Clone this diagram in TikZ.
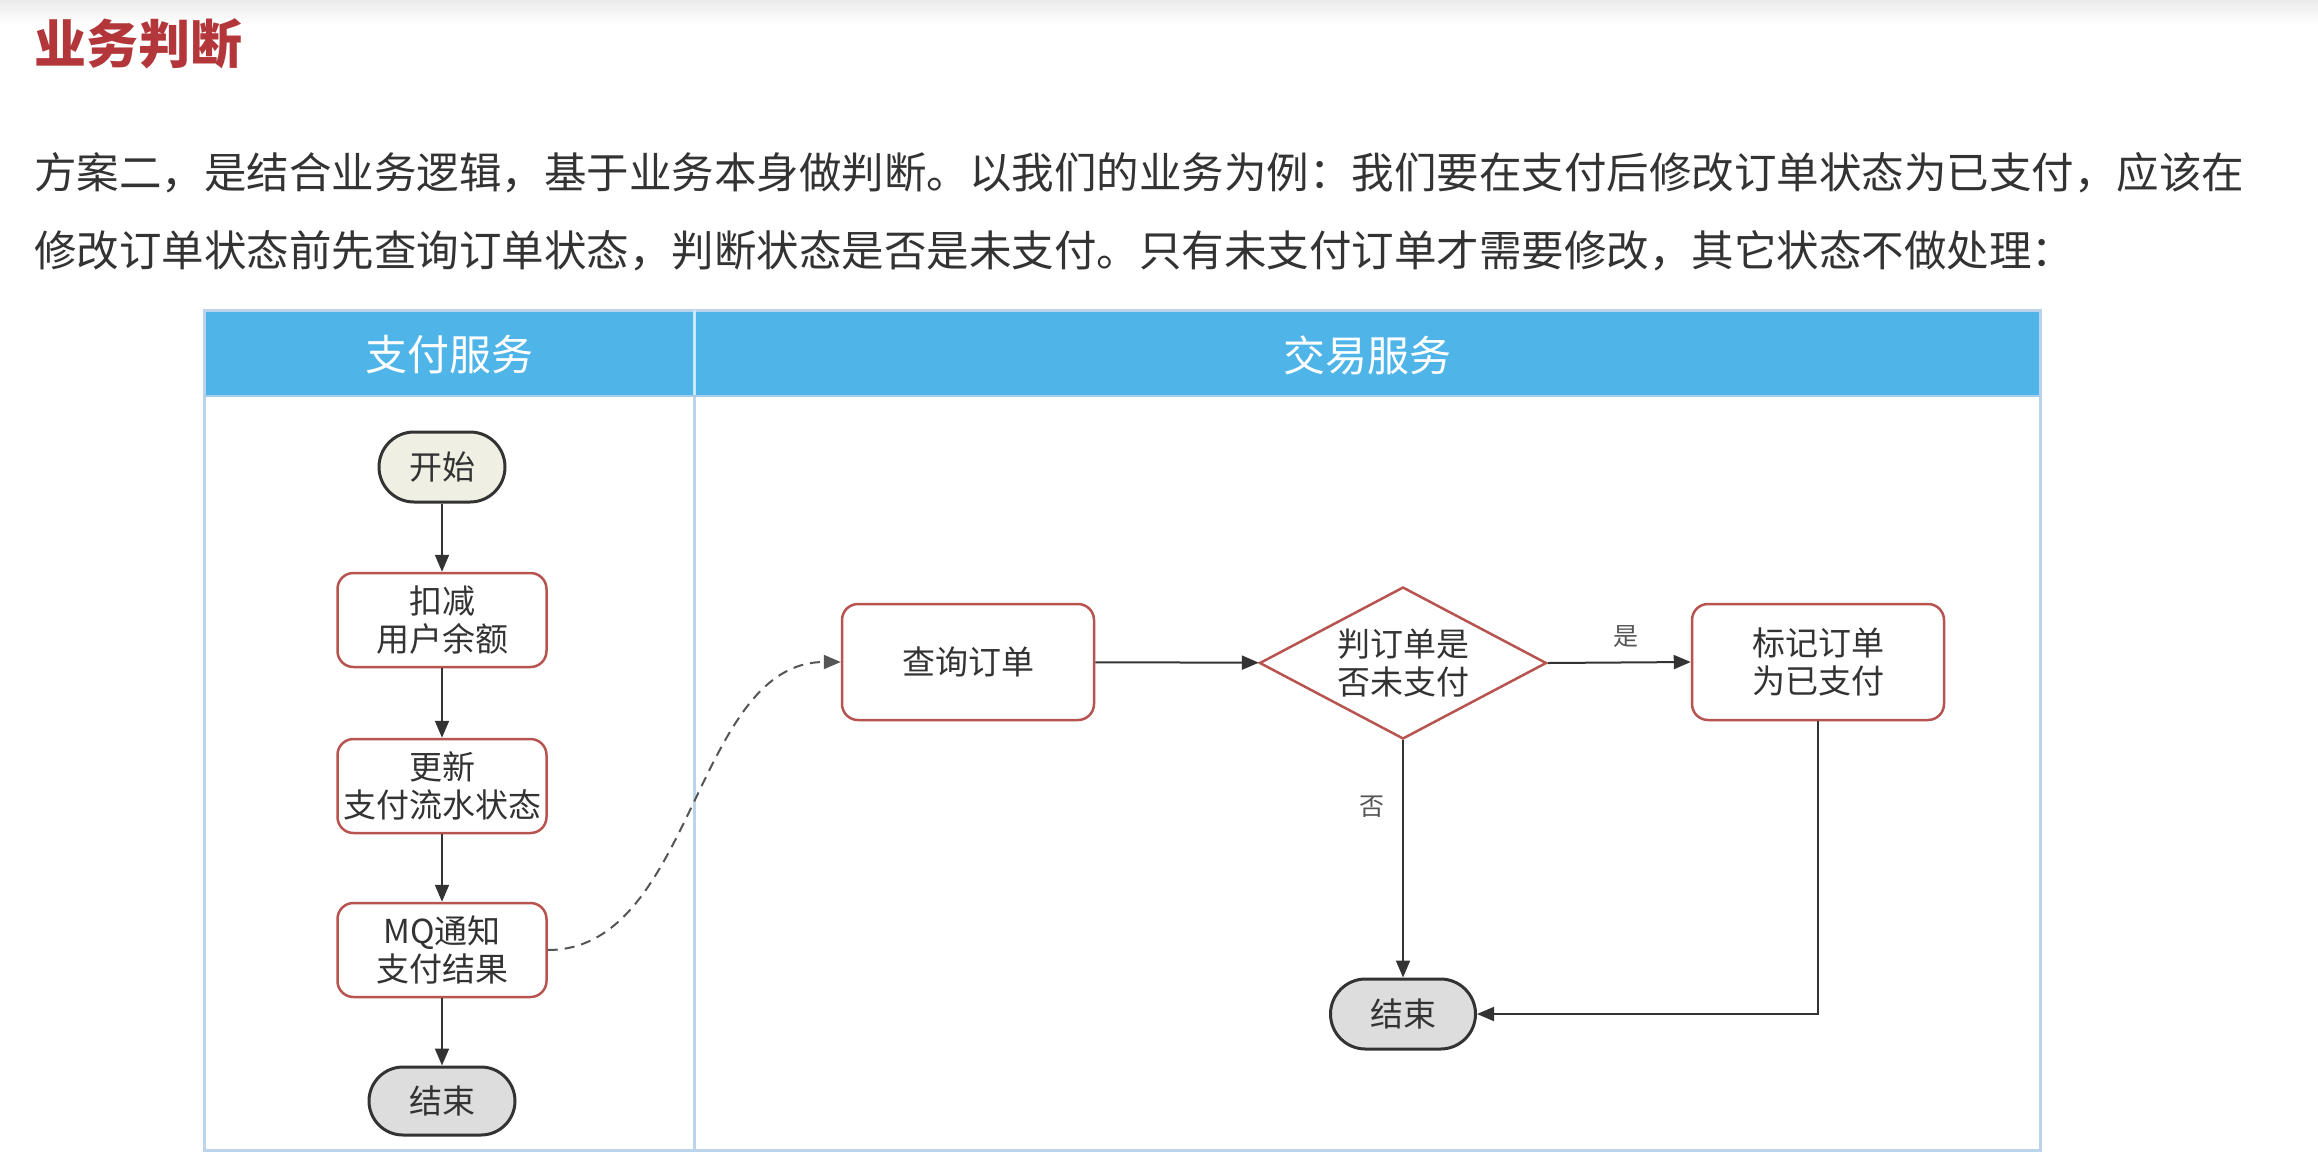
\documentclass[tikz,border=0pt]{standalone}
\usepackage{fontspec}
\setmainfont{Noto Sans CJK SC}
\usetikzlibrary{shapes.geometric,arrows.meta}
\definecolor{titlered}{HTML}{B3373A}
\definecolor{bodytxt}{HTML}{333333}
\definecolor{headblue}{HTML}{4FB5E9}
\definecolor{framecol}{HTML}{BCD3EC}
\definecolor{nodered}{HTML}{B85450}
\definecolor{startfill}{HTML}{EFF0E3}
\definecolor{endfill}{HTML}{DDDDDD}
\definecolor{linecol}{HTML}{333333}
\definecolor{labelgray}{HTML}{555555}
\tikzset{
  proc/.style={draw=nodered, line width=2.5pt, fill=white, rounded corners=16pt,
    align=center, text=bodytxt, inner sep=0pt, font=\fontsize{33}{38}\selectfont},
  term/.style={draw=linecol, line width=3pt, align=center, text=bodytxt, inner sep=0pt,
    font=\fontsize{33}{38}\selectfont},
  decide/.style={diamond, aspect=1.9, draw=nodered, line width=2.5pt, fill=white,
    align=center, text=bodytxt, inner sep=0pt, minimum width=287pt, minimum height=152pt,
    font=\fontsize{33}{38}\selectfont},
  arr/.style={draw=linecol, line width=2pt, -{Triangle[length=17pt,width=14pt]}},
  lbl/.style={text=labelgray, inner sep=0pt, font=\fontsize{25}{30}\selectfont},
  headtxt/.style={text=white, inner sep=0pt, font=\fontsize{42}{48}\selectfont},
  bodyline/.style={anchor=west, text=bodytxt, inner sep=0pt, font=\fontsize{42.5}{50}\selectfont}
}
\begin{document}
\begin{tikzpicture}[x=1pt,y=-1pt]
\useasboundingbox (0,0) rectangle (2318,1152);
\fill[white] (0,0) rectangle (2318,1152);
\shade[top color=black!8, bottom color=white] (0,0) rectangle (2318,24);

% title and text
\node[anchor=west, text=titlered, inner sep=0pt, font=\fontsize{52}{60}\selectfont\bfseries] (title) at (34,44) {业务判断};
\node[bodyline] (line1) at (34,173) {方案二，是结合业务逻辑，基于业务本身做判断。以我们的业务为例：我们要在支付后修改订单状态为已支付，应该在};
\node[bodyline] (line2) at (34,251) {修改订单状态前先查询订单状态，判断状态是否是未支付。只有未支付订单才需要修改，其它状态不做处理：};

% swimlane frame
\fill[headblue] (204,310) rectangle (2040,396);
\draw[framecol, line width=3pt] (204,310) rectangle (2040,1150);
\draw[white!70!headblue, line width=3pt] (694,310) -- (694,396);
\draw[framecol, line width=3pt] (694,396) -- (694,1150);
\draw[framecol!80!headblue, line width=2pt] (204,396) -- (2040,396);
\node[headtxt] (lane1) at (449,355) {支付服务};
\node[headtxt] (lane2) at (1367,355) {交易服务};

% left lane nodes
\node[term, fill=startfill, minimum width=126pt, minimum height=70pt, rounded corners=35pt] (start) at (442,467) {开始};
\node[proc, minimum width=209pt, minimum height=94pt] (deduct) at (442,620) {扣减\\用户余额};
\node[proc, minimum width=209pt, minimum height=94pt] (update) at (442,786) {更新\\支付流水状态};
\node[proc, minimum width=209pt, minimum height=94pt] (mq) at (442,950) {MQ通知\\支付结果};
\node[term, fill=endfill, minimum width=146pt, minimum height=68pt, rounded corners=34pt] (end1) at (442,1101) {结束};

% right lane nodes
\node[proc, minimum width=252pt, minimum height=116pt] (query) at (968,662) {查询订单};
\node[decide] (check) at (1403,663) {判订单是\\否未支付};
\node[proc, minimum width=252pt, minimum height=116pt] (mark) at (1818,662) {标记订单\\为已支付};
\node[term, fill=endfill, minimum width=145pt, minimum height=70pt, rounded corners=35pt] (end2) at (1403,1014) {结束};

% connectors
\draw[arr] (start) -- (deduct);
\draw[arr] (deduct) -- (update);
\draw[arr] (update) -- (mq);
\draw[arr] (mq) -- (end1);
\draw[draw=labelgray, line width=2pt, dash pattern=on 10pt off 7pt, -{Triangle[length=17pt,width=14pt]}]
  (mq.east) .. controls (694,950) and (694,662) .. (query.west);
\draw[arr] (query) -- (check);
\draw[arr] (check.east) -- (mark.west) node[lbl, pos=0.55, above=14pt] (yes) {是};
\draw[arr] (check.south) -- (end2.north) node[lbl, pos=0.28, left=18pt] (no) {否};
\draw[arr] (mark.south) |- (end2.east);
\end{tikzpicture}
\end{document}
